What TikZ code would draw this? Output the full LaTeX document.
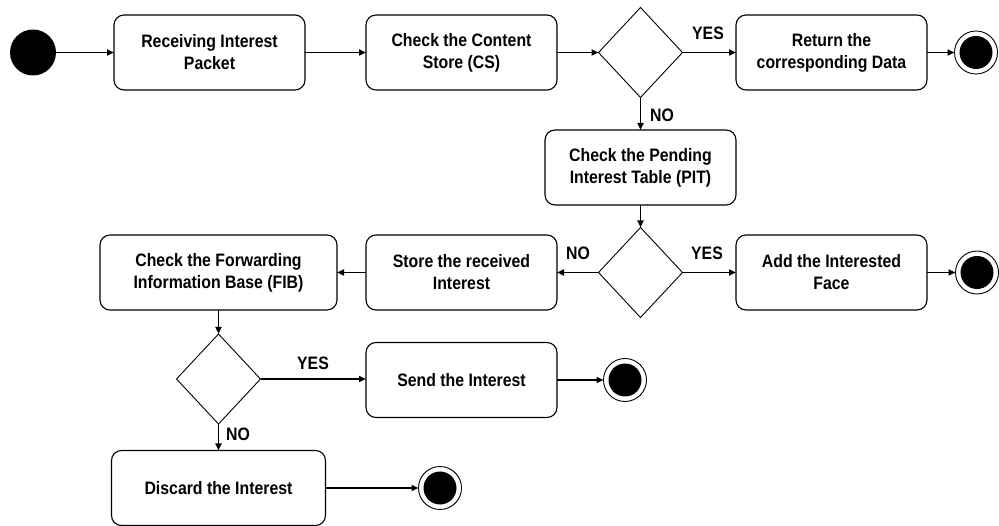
\documentclass[tikz,border=0pt]{standalone}
\usepackage{fontspec}
\setmainfont[FakeStretch=0.88]{Liberation Sans}
\usetikzlibrary{shapes.geometric,arrows.meta}
\begin{document}
\begin{tikzpicture}[x=1pt,y=-1pt,
 box/.style={draw, rounded corners=10pt, line width=1.1pt, minimum width=191pt, minimum height=75pt, inner sep=0pt, outer sep=0pt, align=center, font=\bfseries\fontsize{18}{22}\selectfont},
 dec/.style={draw, diamond, line width=0.9pt, minimum width=84pt, minimum height=90pt, inner sep=0pt, outer sep=0pt},
 startc/.style={circle, fill=black, minimum size=46pt, inner sep=0pt, outer sep=0pt},
 endc/.style={circle, draw, line width=0.9pt, minimum size=43pt, inner sep=0pt, outer sep=0pt, path picture={\fill[black] (path picture bounding box.center) circle (16.5pt);}},
 flow/.style={line width=1.8pt, -{Triangle[length=7pt,width=6pt]}},
 lab/.style={font=\bfseries\fontsize{18}{22}\selectfont, inner sep=0pt}]
\useasboundingbox (0,0) rectangle (999,526);
\node[startc] (s) at (33,52.5) {};
\node[box] (b1) at (209.5,52.5) {Receiving Interest\\Packet};
\node[box] (b2) at (461.5,52.5) {Check the Content\\Store (CS)};
\node[dec] (d1) at (640.5,52.5) {};
\node[box] (b3) at (831.5,52.5) {Return the\\corresponding Data};
\node[endc] (e1) at (976,52.5) {};
\node[box] (b4) at (640.5,167.5) {Check the Pending\\Interest Table (PIT)};
\node[dec] (d2) at (640.5,272.5) {};
\node[box] (b5) at (461.5,272.5) {Store the received\\Interest};
\node[box, minimum width=237pt] (b6) at (218.5,272.5) {Check the Forwarding\\Information Base (FIB)};
\node[box] (b7) at (831.5,272.5) {Add the Interested\\Face};
\node[endc] (e2) at (977,272.5) {};
\node[dec] (d3) at (218.5,379) {};
\node[box] (b8) at (461.5,380) {Send the Interest};
\node[endc] (e3) at (625,380) {};
\node[box, minimum width=214pt] (b9) at (218.5,488) {Discard the Interest};
\node[endc] (e4) at (440,488) {};
\draw[flow] (s) -- (b1);
\draw[flow] (b1) -- (b2);
\draw[flow] (b2) -- (d1);
\draw[flow] (d1) -- (b3);
\draw[flow] (b3) -- (e1);
\draw[flow] (d1) -- (b4);
\draw[flow] (b4) -- (d2);
\draw[flow] (d2) -- (b5);
\draw[flow] (d2) -- (b7);
\draw[flow] (b7) -- (e2);
\draw[flow] (b5) -- (b6);
\draw[flow] (b6) -- (d3);
\draw[flow] (d3.east) -- (d3.east -| b8.west);
\draw[flow] (b8) -- (e3);
\draw[flow] (d3) -- (b9);
\draw[flow] (b9) -- (e4);
\node[lab] (l1) at (708,33) {YES};
\node[lab] (l2) at (662,115) {NO};
\node[lab] (l3) at (578,253) {NO};
\node[lab] (l4) at (707,253) {YES};
\node[lab] (l5) at (313,363) {YES};
\node[lab] (l6) at (238,434) {NO};
\end{tikzpicture}
\end{document}
